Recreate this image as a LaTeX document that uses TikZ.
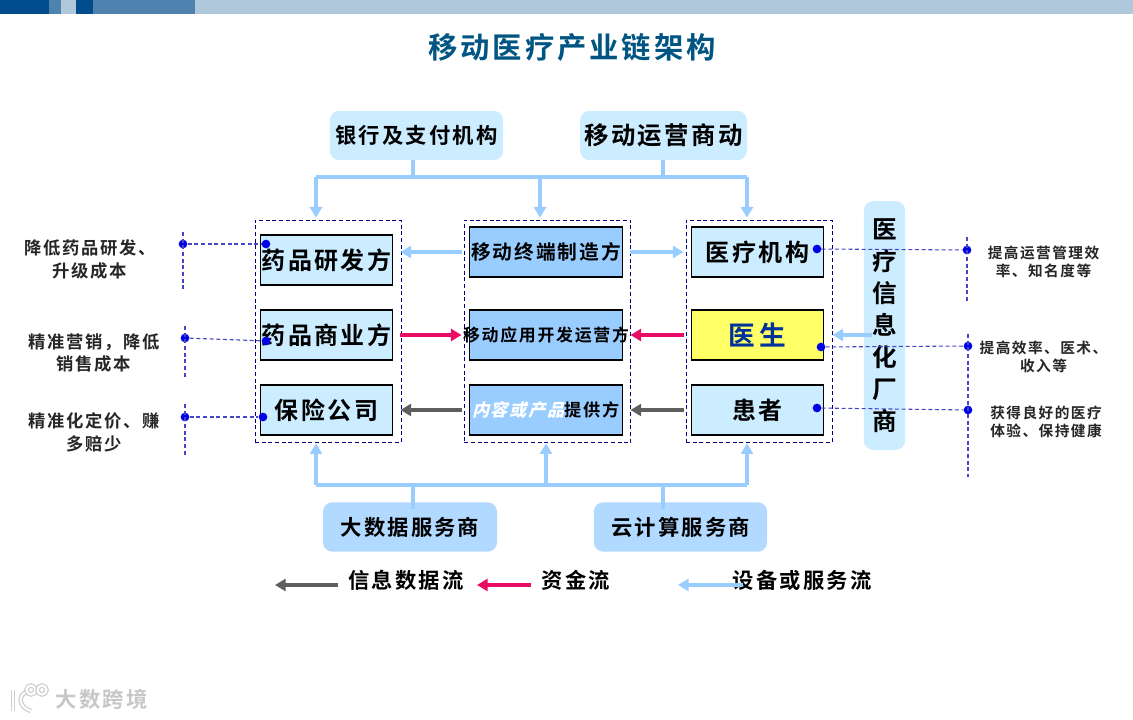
\documentclass[tikz,border=0pt]{standalone}
\usepackage{fontspec}
\setmainfont{Noto Sans CJK SC}[BoldFont={Noto Sans CJK SC Bold},LetterSpace=10]
\newfontfamily\slantcjk{Noto Sans CJK SC}[FakeSlant=0.25,LetterSpace=10]
\usepackage{tikz}
\usetikzlibrary{arrows.meta}
\definecolor{barnavy}{RGB}{0,76,140}
\definecolor{barmid}{RGB}{80,130,175}
\definecolor{barpale}{RGB}{176,200,220}
\definecolor{paleblue}{RGB}{204,236,255}
\definecolor{midblue}{RGB}{153,204,255}
\definecolor{cloudblue}{RGB}{178,217,255}
\definecolor{flowred}{RGB}{234,12,100}
\definecolor{flowgrey}{RGB}{95,95,95}
\definecolor{dashnavy}{RGB}{0,0,128}
\definecolor{dotblue}{RGB}{0,0,230}
\definecolor{leadblue}{RGB}{70,70,195}
\definecolor{titleblue}{RGB}{0,85,130}
\definecolor{docyellow}{RGB}{255,255,102}
\definecolor{docblue}{RGB}{0,51,153}
\begin{document}
\begin{tikzpicture}[
  x=0.75pt, y=-0.75pt,
  boxa/.style={rectangle, draw=black, fill=paleblue, line width=0.8pt,
    minimum width=99pt, minimum height=37.5pt, inner sep=0pt,
    font=\bfseries\fontsize{18}{20}\selectfont},
  boxb/.style={boxa, fill=midblue, minimum width=114.75pt},
  cloud/.style={rectangle, fill=paleblue, rounded corners=7pt, inner sep=0pt,
    minimum height=37pt, font=\bfseries\fontsize{16}{18}\selectfont},
  group/.style={rectangle, draw=dashnavy, dash pattern=on 3pt off 2pt, line width=0.75pt,
    minimum height=167pt, inner sep=0pt},
  busline/.style={draw=midblue, line width=3pt},
  flowb/.style={busline, -{Triangle[length=8pt,width=9pt]}},
  flowr/.style={flowb, draw=flowred},
  flowg/.style={flowb, draw=flowgrey},
  gap/.style={shorten <=5pt, shorten >=5.6pt},
  lead/.style={draw=leadblue, dash pattern=on 3pt off 2pt, line width=0.8pt},
  dot/.style={circle, fill=dotblue, inner sep=0pt, minimum size=6.5pt},
  note/.style={align=center, font=\bfseries\fontsize{13}{17}\selectfont, text=black!85},
  noter/.style={align=center, font=\bfseries\fontsize{11}{13.5}\selectfont, text=black!85},
  legend/.style={anchor=west, font=\bfseries\fontsize{16}{18}\selectfont},
  markline/.style={draw=black!18, double=white, line width=1pt, double distance=1.5pt}
]
\useasboundingbox (0,0) rectangle (1133,720);

% top band
\fill[barpale] (0,0) rectangle (1133,14);
\fill[barnavy] (0,0) rectangle (49,14);
\fill[barmid] (49,0) rectangle (61,14);
\fill[barnavy] (76,0) rectangle (93,14);
\fill[barmid] (93,0) rectangle (195,14);

\node[font=\bfseries\fontsize{22}{24}\selectfont, text=titleblue] (title) at (572,47)
  {移动医疗产业链架构};

% groups
\node[group, minimum width=109.5pt] (gleft) at (328,331.5) {};
\node[group, minimum width=125pt] (gmid) at (547.5,331.5) {};
\node[group, minimum width=109.5pt] (gright) at (759,331.5) {};

% left column
\node[boxa] (drug) at (326.5,260) {药品研发方};
\node[boxa] (trade) at (326.5,335) {药品商业方};
\node[boxa] (insure) at (326.5,410) {保险公司};

% middle column
\node[boxb, font=\bfseries\fontsize{14.8}{16}\selectfont] (device) at (546,252) {移动终端制造方};
\node[boxb, font=\bfseries\fontsize{12.7}{15}\selectfont] (app) at (546,335)
  {\makebox[0pt]{移动应用开发运营方}};
\node[boxb, font=\bfseries\fontsize{12.9}{15}\selectfont] (content) at (546,410)
  {{\slantcjk\color{white}内容或产品}提供方};

% right column
\node[boxa] (hosp) at (757.5,252) {医疗机构};
\node[boxa, fill=docyellow, text=docblue, font=\bfseries\fontsize{20}{22}\selectfont] (doctor) at (757.5,335) {医\,生};
\node[boxa] (patient) at (757.5,410) {患者};

% vendors
\node[cloud, minimum width=130pt] (bank) at (416.5,135.5) {银行及支付机构};
\node[cloud, minimum width=125pt, font=\bfseries\fontsize{18.3}{20}\selectfont] (telecom) at (663.5,135.5) {移动运营商动};
\node[cloud, minimum width=31pt, minimum height=186.5pt, align=center,
  font=\bfseries\fontsize{18.5}{24}\selectfont] (ittrade) at (884.5,325.5)
  {医\\疗\\信\\息\\化\\厂\\商};
\node[cloud, fill=cloudblue, minimum width=130.5pt] (bigdata) at (410,527) {大数据服务商};
\node[cloud, fill=cloudblue, minimum width=130pt] (cloudsvc) at (680.5,527) {云计算服务商};

% top bus
\coordinate (tl) at (316,177);
\coordinate (tm) at (540,177);
\coordinate (tr) at (747,177);
\coordinate (bankdrop) at (413,160);
\coordinate (teldrop) at (663,160);
\draw[busline] (tl) -- (tr);
\draw[busline] (bankdrop) -- (bankdrop |- tl);
\draw[busline] (teldrop) -- (teldrop |- tl);
\draw[flowb, shorten >=1.5pt] (tl) -- (tl |- gleft.north);
\draw[flowb, shorten >=1.5pt] (tm) -- (tm |- gmid.north);
\draw[flowb, shorten >=1.5pt] (tr) -- (tr |- gright.north);

% bottom bus
\coordinate (bl) at (316,485);
\coordinate (bm) at (546,485);
\coordinate (br) at (747,485);
\coordinate (datadrop) at (413,509);
\coordinate (clouddrop) at (663,509);
\draw[busline] (bl) -- (br);
\draw[busline] (datadrop) -- (datadrop |- bl);
\draw[busline] (clouddrop) -- (clouddrop |- bl);
\draw[flowb] (bl) -- (bl |- gleft.south);
\draw[flowb] (bm) -- (bm |- gmid.south);
\draw[flowb] (br) -- (br |- gright.south);

% flows between columns
\draw[flowb, gap] (device.west) -- (device.west -| drug.east);
\draw[flowb, gap] (device.east) -- (hosp.west);
\draw[flowr, gap] (trade.east) -- (app.west);
\draw[flowr, gap] (doctor.west) -- (app.east);
\draw[flowg, gap] (content.west) -- (insure.east);
\draw[flowg, gap] (patient.west) -- (content.east);
\coordinate (itport) at (872,335);
\draw[flowb] (itport) -- (itport -| gright.east);

% left notes
\node[dot] (dl1) at (183,244) {};
\node[dot] (dl2) at (185,338) {};
\node[dot] (dl3) at (185,417) {};
\node[dot] (db1) at (266,244) {};
\node[dot] (db2) at (266,341) {};
\node[dot] (db3) at (263,417) {};
\draw[lead] (dl1) -- (db1);
\draw[lead] (dl2) -- (db2);
\draw[lead] (dl3) -- (db3);
\draw[lead] (dl1) ++(0,-12) -- ++(0,57);
\draw[lead] (dl2) ++(0,-12) -- ++(0,51);
\draw[lead] (dl3) ++(0,-13) -- ++(0,53);
\node[note] (nl1) at (90,259.5) {降低药品研发、\\升级成本};
\node[note] (nl2) at (94,353) {精准营销，降低\\销售成本};
\node[note] (nl3) at (94,432.5) {精准化定价、赚\\多赔少};

% right notes
\node[dot] (dh1) at (817,249) {};
\node[dot] (dh2) at (821,347) {};
\node[dot] (dh3) at (817,408) {};
\node[dot] (dr1) at (967,250) {};
\node[dot] (dr2) at (968,346) {};
\node[dot] (dr3) at (968,410) {};
\draw[lead] (dh1) -- (dr1);
\draw[lead] (dh2) -- (dr2);
\draw[lead] (dh3) -- (dr3);
\draw[lead] (dr1) ++(0,-13) -- ++(0,66);
\draw[lead] (dr2) ++(0,-12) -- ++(0,143);
\node[noter] (nr1) at (1043.5,262) {提高运营管理效\\率、知名度等};
\node[noter] (nr2) at (1043.5,357) {提高效率、医术、\\收入等};
\node[noter] (nr3) at (1046,422) {获得良好的医疗\\体验、保持健康};

% legend
\node[legend] (l1) at (343.5,580) {信息数据流};
\node[legend] (l2) at (537,580) {资金流};
\node[legend] (l3) at (728,580) {设备或服务流};
\coordinate (lg1) at (338,585);
\coordinate (lg2) at (531,585);
\coordinate (lg3) at (743,585);
\coordinate (tip1) at (275,585);
\coordinate (tip2) at (477,585);
\coordinate (tip3) at (678,585);
\draw[flowg] (lg1) -- (tip1);
\draw[flowr] (lg2) -- (tip2);
\draw[flowb] (lg3) -- (tip3);

% watermark
\draw[markline] (13,690) -- (13,711);
\draw[markline] (29,691) .. controls (17,694) and (18,707) .. (31,711);
\draw[markline] (31,690) circle[radius=4.5];
\draw[markline] (42,690) circle[radius=4.5];
\node[font=\bfseries\fontsize{16}{18}\selectfont, text=black!22, anchor=west] (mark) at (51,699)
  {大数跨境};
\end{tikzpicture}
\end{document}
